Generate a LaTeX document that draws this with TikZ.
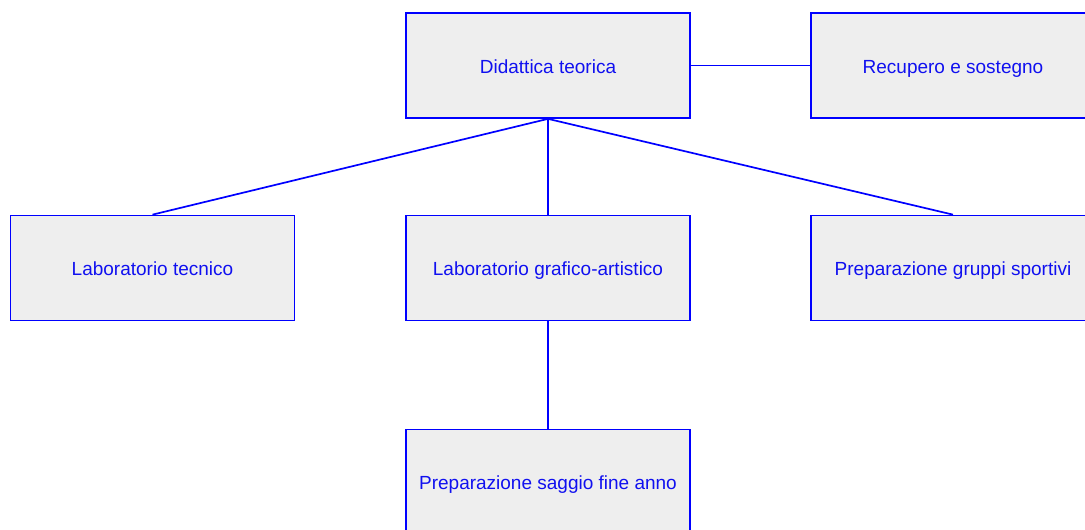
\documentclass[tikz,border=0pt]{standalone}
\usepackage{fontspec}
\setmainfont{Liberation Sans}
\definecolor{boxfill}{HTML}{EEEEEE}
\definecolor{ink}{HTML}{1010F0}
\begin{document}
\begin{tikzpicture}[x=1pt,y=-1pt,
  box/.style={draw=blue,fill=boxfill,line width=1.7pt,minimum width=284pt,minimum height=105pt,inner sep=0pt,text height=15pt,text depth=0pt,text=ink,font=\fontsize{19}{22}\selectfont},
  link/.style={draw=blue,line width=1.7pt}]
\useasboundingbox (0,0) rectangle (1085,530);
\clip (0,0) rectangle (1085,530);
\node[box] (dt) at (548,65.5) {Didattica teorica};
\node[box] (rs) at (953,65.5) {Recupero e sostegno};
\node[box] (lt) at (152.5,268) {Laboratorio tecnico};
\node[box] (lg) at (548,268) {Laboratorio grafico-artistico};
\node[box] (pg) at (953,268) {Preparazione gruppi sportivi};
\node[box] (ps) at (548,482) {Preparazione saggio fine anno};
\draw[link] (dt.east) -- (rs.west);
\draw[link] (dt.south) -- (lt.north);
\draw[link] (dt.south) -- (lg.north);
\draw[link] (dt.south) -- (pg.north);
\draw[link] (lg.south) -- (ps.north);
\end{tikzpicture}
\end{document}
